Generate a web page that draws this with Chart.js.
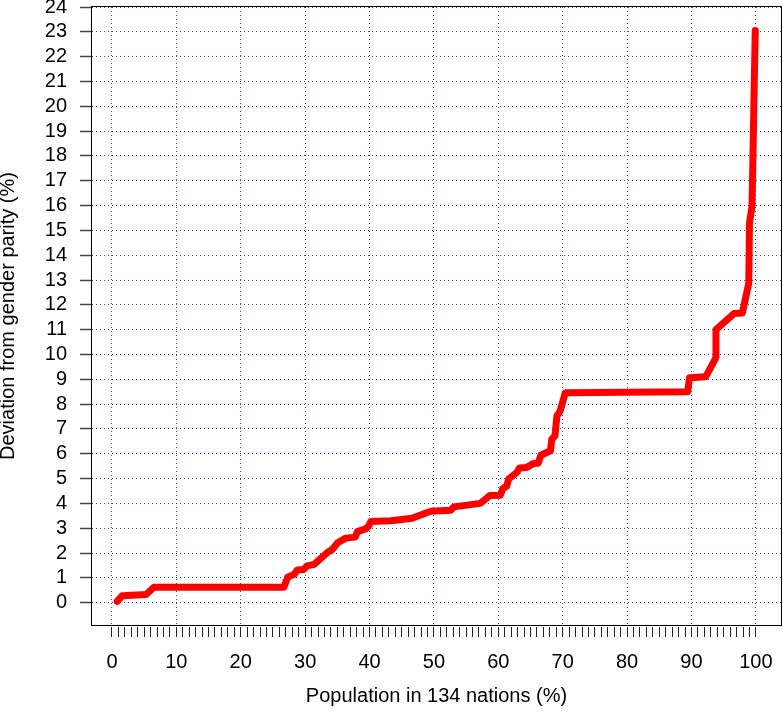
<!DOCTYPE html>
<html lang="en">
<head>
  <meta charset="UTF-8">
  <title>Deviation from gender parity</title>
  <script src="https://cdn.jsdelivr.net/npm/chart.js"></script>
  <style>
    html, body { margin: 0; padding: 0; background: #fff; }
    #wrap { width: 783px; height: 721px; }
  </style>
</head>
<body>
  <div id="wrap"><canvas id="parityChart"></canvas></div>
  <script>
    // cumulative population share (%) and deviation from gender parity (%)
    const populationPct = [
      0.8, 1.6, 5.3, 6.5, 26.7, 27.3, 28.3, 28.8, 29.8, 30.3,
      31.4, 32.4, 33.5, 34.2, 35.0, 36.3, 37.8, 38.1, 39.4, 39.9,
      40.2, 43.3, 46.6, 49.5, 52.6, 53.1, 57.2, 58.7, 60.3, 60.7,
      61.3, 61.6, 62.9, 63.3, 64.4, 65.5, 66.2, 66.6, 68.1, 68.3,
      68.8, 69.1, 69.6, 70.4, 89.4, 89.7, 92.2, 93.8, 93.8, 96.6,
      97.9, 98.9, 99.0, 99.4, 99.9
    ];
    const deviationPct = [
      0.05, 0.28, 0.33, 0.62, 0.62, 1.03, 1.14, 1.32, 1.34, 1.48,
      1.54, 1.77, 2.03, 2.14, 2.40, 2.60, 2.64, 2.86, 2.97, 3.10,
      3.27, 3.30, 3.40, 3.68, 3.72, 3.86, 4.00, 4.32, 4.33, 4.60,
      4.69, 4.98, 5.25, 5.43, 5.45, 5.61, 5.62, 5.94, 6.12, 6.59,
      6.72, 7.52, 7.72, 8.46, 8.50, 9.06, 9.10, 9.87, 11.00, 11.65,
      11.67, 12.88, 15.29, 15.96, 23.05
    ];
    const yTicks = [0, 1, 2, 3, 4, 5, 6, 7, 8, 9, 10, 11, 12, 13, 14, 15, 16, 17, 18, 19, 20, 21, 22, 23, 24];
    const xLabelStep = 10;
    // small marks along the x axis, one per percent
    const xTicks = Array.from({ length: 101 }, (_, i) => i);

    const gridBlue = 'rgba(30, 30, 160, 0.85)';
    const font = { family: "'Liberation Sans', Arial, sans-serif", size: 20 };

    const frameBox = {
      id: 'frameBox',
      afterDatasetsDraw(chart) {
        const { ctx, chartArea: a } = chart;
        ctx.save();
        ctx.strokeStyle = '#000';
        ctx.lineWidth = 1;
        ctx.strokeRect(a.left - 0.5, a.top - 0.5, a.width + 1, a.height + 1);
        ctx.restore();
      }
    };

    new Chart(document.getElementById('parityChart'), {
      type: 'line',
      data: {
        datasets: [{
          data: populationPct.map((x, i) => ({ x, y: deviationPct[i] })),
          borderColor: '#ff0000',
          borderWidth: 7,
          borderCapStyle: 'round',
          borderJoinStyle: 'round',
          pointRadius: 0,
          tension: 0,
          fill: false
        }]
      },
      options: {
        responsive: true,
        maintainAspectRatio: false,
        animation: false,
        layout: { padding: { top: 7, right: 2, left: 0, bottom: 0 } },
        plugins: { legend: { display: false }, tooltip: { enabled: false } },
        scales: {
          x: {
            type: 'linear',
            min: -3.1,
            max: 103.9,
            afterBuildTicks: s => { s.ticks = xTicks.map(v => ({ value: v })); },
            afterFit: s => { s.height = 96; s.paddingLeft = 0; s.paddingRight = 0; },
            ticks: {
              autoSkip: false,
              maxRotation: 0,
              padding: 13,
              color: '#000',
              font,
              callback: v => (v % xLabelStep === 0 ? String(v) : '')
            },
            grid: {
              color: c => (c.tick && c.tick.value % xLabelStep === 0 ? gridBlue : 'rgba(0,0,0,0)'),
              lineWidth: 1,
              tickLength: 12,
              tickColor: '#222',
              tickWidth: 1,
              tickBorderDash: [0, 2, 10, 100]
            },
            border: { display: false, dash: [1, 3] },
            title: {
              display: true,
              text: 'Population in 134 nations (%)',
              color: '#000',
              font: { ...font, lineHeight: 1.2 },
              padding: { top: 0, bottom: 13 }
            }
          },
          y: {
            type: 'linear',
            min: -0.9,
            max: 24,
            afterBuildTicks: s => { s.ticks = yTicks.map(v => ({ value: v })); },
            afterFit: s => { s.width = 92; s.paddingTop = 0; s.paddingBottom = 0; },
            ticks: { autoSkip: false, padding: 13, color: '#000', font },
            grid: {
              color: gridBlue,
              lineWidth: 1,
              tickLength: 12,
              tickColor: '#444',
              tickWidth: 1.5,
              tickBorderDash: []
            },
            border: { display: false, dash: [1, 3] },
            title: {
              display: true,
              text: 'Deviation from gender parity (%)',
              color: '#000',
              font: { ...font, lineHeight: 0.8 },
              padding: { top: 0, bottom: 0 }
            }
          }
        }
      },
      plugins: [frameBox]
    });
  </script>
</body>
</html>
